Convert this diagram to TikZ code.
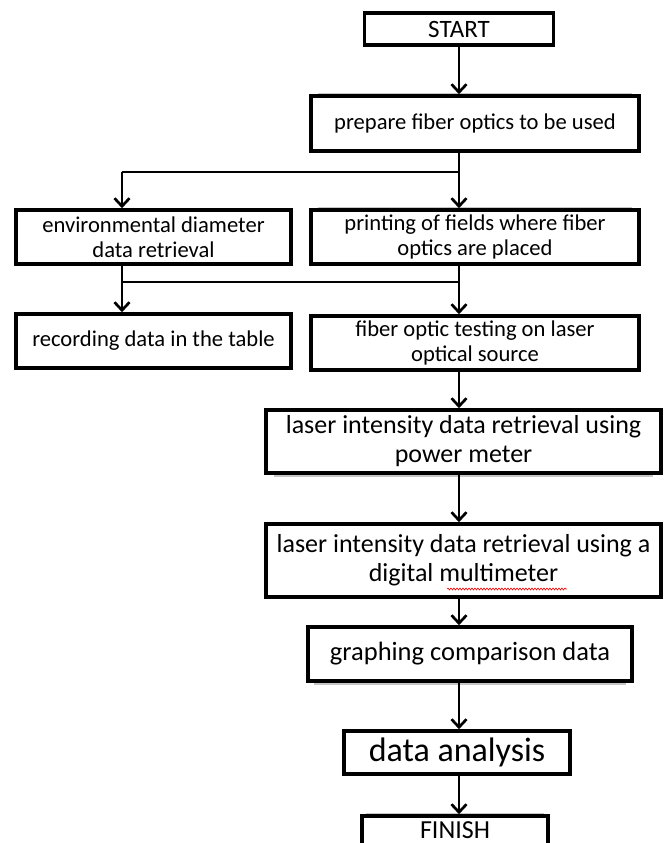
\documentclass[tikz,border=0pt]{standalone}
\usepackage{fontspec}
\setmainfont{Carlito}
\usetikzlibrary{arrows.meta,shadows,decorations.pathmorphing}
\begin{document}
\begin{tikzpicture}[x=1pt,y=-1pt,
  box/.style={draw=black, line width=3.6pt, fill=white, align=center, inner sep=0pt,
    font=\fontsize{22.6}{25.5}\selectfont},
  big/.style={font=\fontsize{26}{29}\selectfont},
  shup/.style={drop shadow={shadow xshift=0pt, shadow yshift=4pt, shadow scale=0.96, fill=gray!45, opacity=1}},
  shdown/.style={drop shadow={shadow xshift=0pt, shadow yshift=-5pt, shadow scale=0.96, fill=gray!45, opacity=1}},
  ln/.style={line width=2.7pt},
  arr/.style={line width=2.7pt, -{Straight Barb[length=8pt,width=15pt]}}]
\useasboundingbox (0,0) rectangle (664,843);
\clip (0,0) rectangle (664,843);

\node[box, font=\fontsize{25}{28}\selectfont, minimum width=189pt, minimum height=32pt] (start) at (459,29) {START};
\node[box, shup, minimum width=328pt, minimum height=55pt] (prep) at (475,123.5) {prepare fiber optics to be used};
\node[box, minimum width=275pt, minimum height=54pt] (env) at (153.5,237) {environmental diameter\\data retrieval};
\node[box, shup, minimum width=328pt, minimum height=54pt] (print) at (475,237) {printing of fields where fiber\\optics are placed};
\node[box, minimum width=275pt, minimum height=54pt] (rec) at (153.5,341) {recording data in the table};
\node[box, minimum width=328pt, minimum height=54pt] (test) at (475,343) {fiber optic testing on laser\\optical source};
\node[box, big, shdown, minimum width=395pt, minimum height=63pt] (las1) at (463.5,441.5) {laser intensity data retrieval using\\power meter};
\node[box, big, minimum width=395pt, minimum height=73pt] (las2) at (463.5,560.5) {laser intensity data retrieval using a\\digital multimeter};
\node[box, shdown, font=\fontsize{26.5}{29}\selectfont, minimum width=324pt, minimum height=54pt] (graph) at (470,654) {graphing comparison data};
\node[box, font=\fontsize{34}{38}\selectfont, minimum width=226pt, minimum height=43pt] (ana) at (457,752.5) {data analysis};
\node[box, shup, font=\fontsize{26}{29}\selectfont, minimum width=186pt, minimum height=40pt, text depth=12pt] (fin) at (455,836) {FINISH};

\coordinate (mx) at (459,0);
\coordinate (lx) at (122,0);
\coordinate (c1) at (459,172);
\coordinate (c2) at (459,282);

\draw[arr] (start.south -| mx) -- (prep.north -| mx);
\draw[arr] (prep.south -| mx) -- (print.north -| mx);
\draw[ln] (c1) -- (c1 -| lx);
\draw[arr] (c1 -| lx) -- (env.north -| lx);
\draw[ln] (env.south -| lx) -- (c2 -| lx) -- (c2);
\draw[arr] (c2 -| lx) -- (rec.north -| lx);
\draw[arr] (print.south -| mx) -- (test.north -| mx);
\draw[arr] (test.south -| mx) -- (las1.north -| mx);
\draw[arr] (las1.south -| mx) -- (las2.north -| mx);
\draw[arr] (las2.south -| mx) -- (graph.north -| mx);
\draw[arr] (graph.south -| mx) -- (ana.north -| mx);
\draw[arr] (ana.south -| mx) -- (fin.north -| mx);

\draw[red, line width=0.6pt, decorate, decoration={snake, amplitude=1pt, segment length=3pt}] (447,589) -- (567,589);
\end{tikzpicture}
\end{document}
